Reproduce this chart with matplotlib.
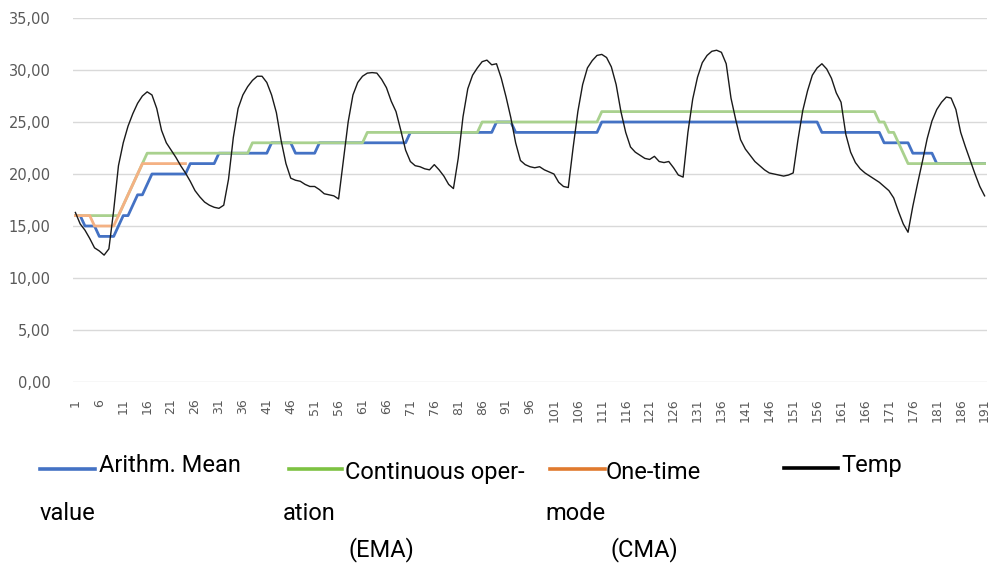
import numpy as np
import matplotlib
matplotlib.use("Agg")
import matplotlib.pyplot as plt
from matplotlib.lines import Line2D

# ---------------- data ----------------
x_index = np.arange(1, 192)
x_tick_values = list(range(1, 192, 5))

arith_mean = [
    16, 16, 15, 15, 15, 14, 14, 14, 14, 15, 16, 16, 17, 18, 18, 19, 20, 20, 20, 20,
    20, 20, 20, 20, 21, 21, 21, 21, 21, 21, 22, 22, 22, 22, 22, 22, 22, 22, 22, 22,
    22, 23, 23, 23, 23, 23, 22, 22, 22, 22, 22, 23, 23, 23, 23, 23, 23, 23, 23, 23,
    23, 23, 23, 23, 23, 23, 23, 23, 23, 23, 24, 24, 24, 24, 24, 24, 24, 24, 24, 24,
    24, 24, 24, 24, 24, 24, 24, 24, 25, 25, 25, 25, 24, 24, 24, 24, 24, 24, 24, 24,
    24, 24, 24, 24, 24, 24, 24, 24, 24, 24, 25, 25, 25, 25, 25, 25, 25, 25, 25, 25,
    25, 25, 25, 25, 25, 25, 25, 25, 25, 25, 25, 25, 25, 25, 25, 25, 25, 25, 25, 25,
    25, 25, 25, 25, 25, 25, 25, 25, 25, 25, 25, 25, 25, 25, 25, 25, 24, 24, 24, 24,
    24, 24, 24, 24, 24, 24, 24, 24, 24, 23, 23, 23, 23, 23, 23, 22, 22, 22, 22, 22,
    21, 21, 21, 21, 21, 21, 21, 21, 21, 21, 21,
]

continuous_ema = [
    16, 16, 16, 16, 16, 16, 16, 16, 16, 16, 17, 18, 19, 20, 21, 22, 22, 22, 22, 22,
    22, 22, 22, 22, 22, 22, 22, 22, 22, 22, 22, 22, 22, 22, 22, 22, 22, 23, 23, 23,
    23, 23, 23, 23, 23, 23, 23, 23, 23, 23, 23, 23, 23, 23, 23, 23, 23, 23, 23, 23,
    23, 24, 24, 24, 24, 24, 24, 24, 24, 24, 24, 24, 24, 24, 24, 24, 24, 24, 24, 24,
    24, 24, 24, 24, 24, 25, 25, 25, 25, 25, 25, 25, 25, 25, 25, 25, 25, 25, 25, 25,
    25, 25, 25, 25, 25, 25, 25, 25, 25, 25, 26, 26, 26, 26, 26, 26, 26, 26, 26, 26,
    26, 26, 26, 26, 26, 26, 26, 26, 26, 26, 26, 26, 26, 26, 26, 26, 26, 26, 26, 26,
    26, 26, 26, 26, 26, 26, 26, 26, 26, 26, 26, 26, 26, 26, 26, 26, 26, 26, 26, 26,
    26, 26, 26, 26, 26, 26, 26, 26, 25, 25, 24, 24, 23, 22, 21, 21, 21, 21, 21, 21,
    21, 21, 21, 21, 21, 21, 21, 21, 21, 21, 21,
]

one_time_cma = [
    16, 16, 16, 16, 15, 15, 15, 15, 15, 16, 17, 18, 19, 20, 21, 21, 21, 21, 21, 21,
    21, 21, 21, 21,
]

temp = [
    16.3, 15.2, 14.6, 13.8, 12.9, 12.6, 12.2, 12.8, 16.5, 20.8,
    23.0, 24.6, 25.8, 26.8, 27.5, 27.9, 27.6, 26.3, 24.2, 23.0,
    22.3, 21.6, 20.8, 20.1, 19.3, 18.4, 17.8, 17.3, 17.0, 16.8,
    16.7, 17.0, 19.5, 23.5, 26.3, 27.6, 28.4, 29.0, 29.4, 29.4,
    28.8, 27.6, 25.9, 23.2, 21.0, 19.6, 19.4, 19.3, 19.0, 18.8,
    18.8, 18.5, 18.1, 18.0, 17.9, 17.6, 21.3, 25.0, 27.6, 28.8,
    29.4, 29.7, 29.75, 29.7, 29.1, 28.3, 27.0, 26.0, 24.2, 22.3,
    21.2, 20.8, 20.7, 20.5, 20.4, 20.9, 20.4, 19.8, 19.0, 18.6,
    21.5, 25.5, 28.2, 29.5, 30.2, 30.8, 30.95, 30.5, 30.6, 29.2,
    27.4, 25.4, 23.0, 21.3, 20.9, 20.7, 20.6, 20.7, 20.4, 20.2,
    20.0, 19.2, 18.8, 18.7, 22.5, 26.0, 28.6, 30.2, 30.9, 31.4,
    31.5, 31.2, 30.3, 28.6, 26.0, 24.0, 22.6, 22.1, 21.8, 21.5,
    21.4, 21.7, 21.2, 21.1, 21.2, 20.6, 19.9, 19.7, 24.0, 27.2,
    29.3, 30.7, 31.4, 31.8, 31.9, 31.7, 30.6, 27.3, 25.2, 23.3,
    22.4, 21.8, 21.2, 20.8, 20.4, 20.1, 20.0, 19.9, 19.8, 19.9,
    20.1, 23.3, 26.1, 28.0, 29.5, 30.2, 30.6, 30.1, 29.2, 27.8,
    26.9, 23.8, 22.1, 21.1, 20.5, 20.1, 19.8, 19.5, 19.2, 18.8,
    18.4, 17.7, 16.4, 15.2, 14.4, 16.9, 19.1, 21.2, 23.4, 25.1,
    26.2, 26.9, 27.4, 27.3, 26.2, 24.0, 22.6, 21.3, 20.0, 18.8,
    17.9,
]

y_tick_values = [0, 5, 10, 15, 20, 25, 30, 35]

legend_labels = [
    ["Arithm. Mean", "value"],
    ["Continuous oper-", "ation", "(EMA)"],
    ["One-time", "mode", "(CMA)"],
    ["Temp"],
]

# ---------------- figure ----------------
W, H = 998, 563
fig = plt.figure(figsize=(W / 100, H / 100), dpi=100)
ax = fig.add_axes([73 / W, 1 - 382 / H, (987 - 73) / W, (382 - 18) / H])

ax.plot(x_index, arith_mean, color="#4472C4", lw=2.0, zorder=3)
ax.plot(x_index, continuous_ema, color="#A9D18E", lw=2.0, zorder=4)
ax.plot(x_index[:len(one_time_cma)], one_time_cma, color="#F4B183", lw=2.0, zorder=5)
ax.plot(x_index, temp, color="#1a1a1a", lw=1.0, zorder=6)

ax.set_xlim(0.5, 191.5)
ax.set_ylim(0, 35)
ax.set_yticks(y_tick_values)
ax.set_yticklabels([f"{v:.2f}".replace(".", ",") for v in y_tick_values])
ax.set_xticks(x_tick_values)
ax.set_xticklabels([str(v) for v in x_tick_values], rotation=90)

ax.yaxis.grid(True, color="#D9D9D9", lw=1.0)
ax.set_axisbelow(True)
for s in ax.spines.values():
    s.set_visible(False)
ax.tick_params(axis="both", length=0, labelcolor="#595959")
ax.tick_params(axis="y", pad=16, labelsize=10.5)
ax.tick_params(axis="x", pad=12, labelsize=9)

# ---------------- legend (manual, wrapped like the original) ----------------
def fx(x):
    return x / W

def fy(y):
    return 1 - y / H

leg_font = dict(fontsize=17, family=["Roboto", "DejaVu Sans"], color="black", va="baseline", ha="left")

handles = [
    ("#4472C4", 40, 95, 469),
    ("#7DC242", 289, 342, 469),
    ("#E07A2E", 550, 605, 469),
    ("#000000", 784, 838, 468),
]
for col, x0, x1, yy in handles:
    fig.add_artist(Line2D([fx(x0), fx(x1)], [fy(yy), fy(yy)], color=col, lw=2.6,
                          transform=fig.transFigure))

text_pos = [
    [(99, 472), (40, 520)],
    [(345, 479), (283, 520), (349, 556)],
    [(606, 479), (545, 520), (611, 556)],
    [(841, 472)],
]
for labels, poss in zip(legend_labels, text_pos):
    for t, (px, py) in zip(labels, poss):
        fig.text(fx(px), fy(py), t, **leg_font)

fig.savefig("out.png", dpi=100)
